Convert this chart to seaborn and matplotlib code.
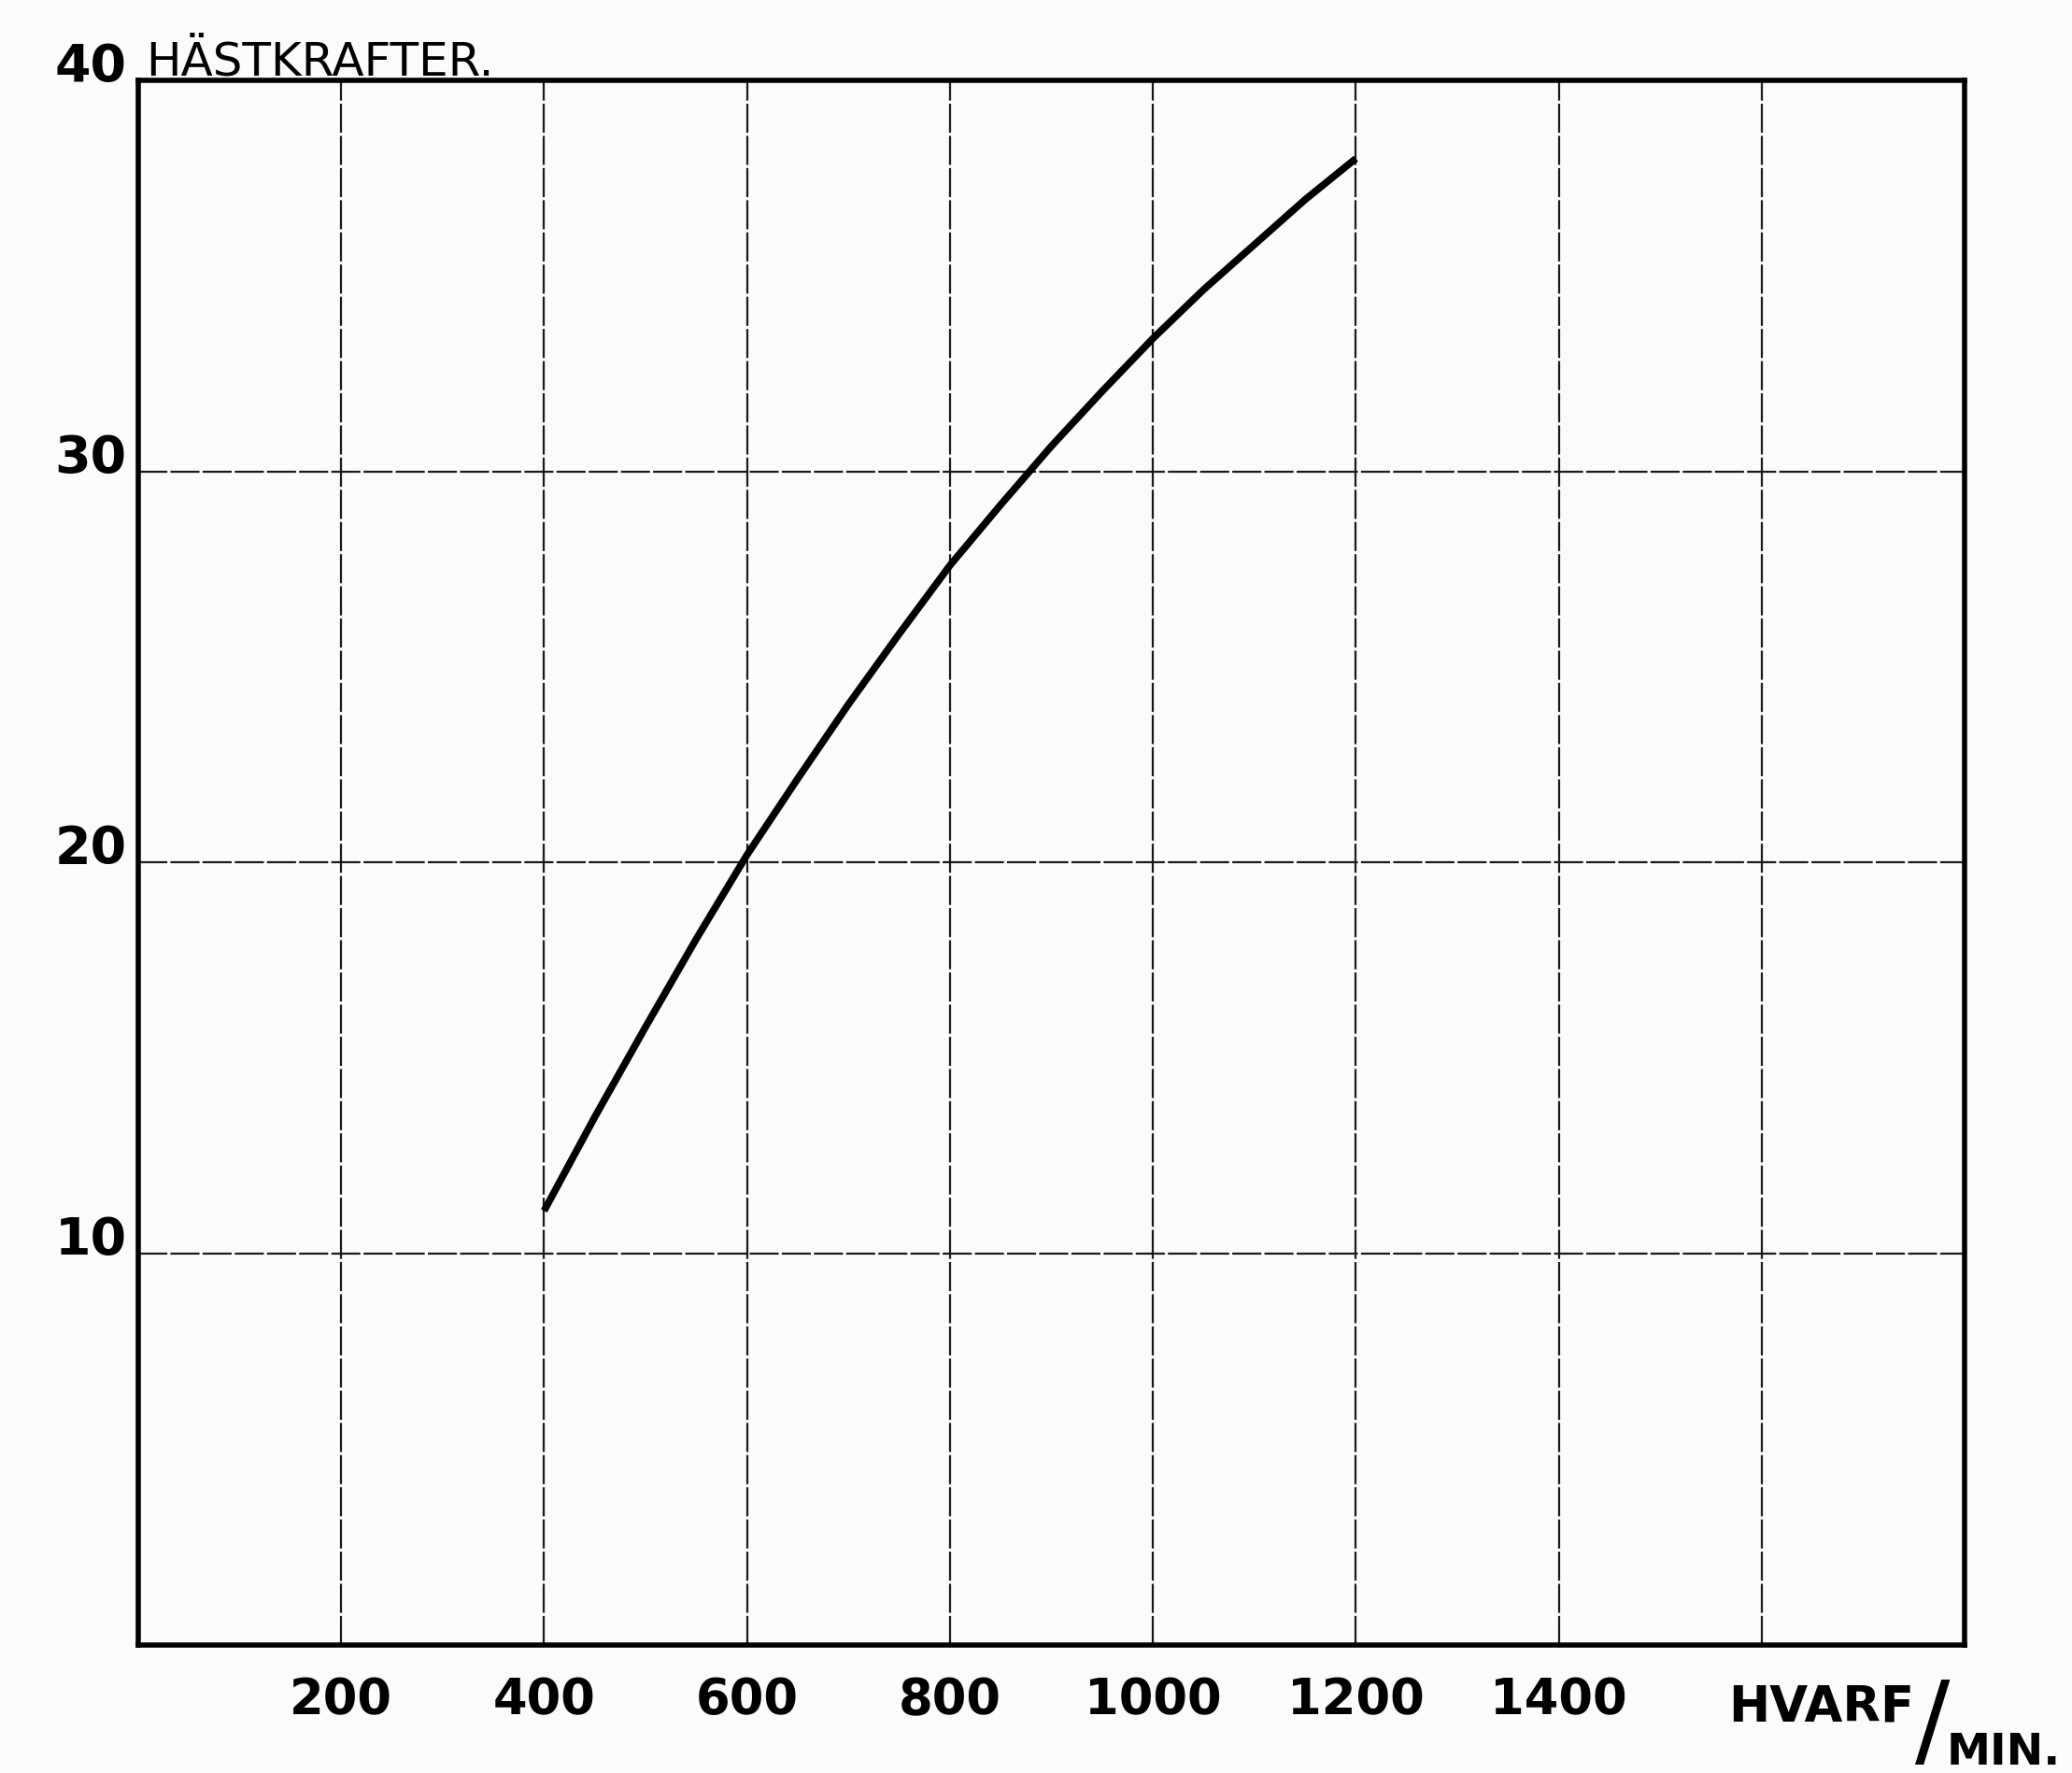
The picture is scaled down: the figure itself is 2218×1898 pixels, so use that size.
import matplotlib
matplotlib.use("Agg")
import matplotlib.pyplot as plt
from matplotlib.transforms import ScaledTranslation
import seaborn as sns

# Hästkrafter mot varvtal (hvarf/min), avläst från kurvan
rpm = [400, 450, 500, 550, 600, 650, 700, 750, 800,
       850, 900, 950, 1000, 1050, 1100, 1150, 1200]
hp = [11.1, 13.5, 15.8, 18.05, 20.2, 22.15, 24.05, 25.85, 27.6,
      29.15, 30.65, 32.05, 33.4, 34.65, 35.8, 36.95, 38.0]

x_ticks = [200, 400, 600, 800, 1000, 1200, 1400, 1600]
x_labels = ["200", "400", "600", "800", "1000", "1200", "1400", ""]
y_ticks = [10, 20, 30, 40]
y_labels = ["10", "20", "30", "40"]

sns.set_style("white")
plt.rcParams["font.family"] = ["DejaVu Sans"]
plt.rcParams["text.color"] = "black"
plt.rcParams["xtick.color"] = "black"
plt.rcParams["ytick.color"] = "black"

fig = plt.figure(figsize=(22.18, 18.98), dpi=100, facecolor="#fbfbfb")
ax = fig.add_axes([0.0667, 0.0722, 0.8815, 0.8825])
ax.set_facecolor("#fbfbfb")

sns.lineplot(x=rpm, y=hp, color="black", linewidth=5.5, ax=ax,
             solid_capstyle="butt", solid_joinstyle="round", zorder=5)

ax.set_xlim(0, 1800)
ax.set_ylim(0, 40)
ax.set_xticks(x_ticks)
ax.set_xticklabels(x_labels, fontsize=38, fontweight="bold", color="black")
ax.set_yticks(y_ticks)
ax.set_yticklabels(y_labels, fontsize=40, fontweight="bold", color="black")
ax.tick_params(axis="both", length=0, labelcolor="black")
ax.tick_params(axis="x", pad=24)
ax.tick_params(axis="y", pad=9)

# y-etiketterna sitter lite ovanför linjerna
for lab in ax.get_yticklabels():
    lab.set_transform(lab.get_transform() + ScaledTranslation(0, 0.2, fig.dpi_scale_trans))

ax.grid(True, color="#1a1a1a", linewidth=1.6, linestyle=(0, (14, 1.5)))

for side in ["left", "right", "top", "bottom"]:
    ax.spines[side].set_visible(True)
    ax.spines[side].set_color("black")
    ax.spines[side].set_linewidth(4)

ax.text(0.004, 1.003, "HÄSTKRAFTER.", transform=ax.transAxes,
        fontsize=36, va="baseline", ha="left", color="black")

ax.text(1567, -1.6, "HVARF", fontsize=38, fontweight="bold", color="black",
        ha="left", va="center", clip_on=False)
ax.text(1768, -2.1, "/", fontsize=80, ha="center", va="center",
        color="black", clip_on=False)
ax.text(1782, -2.75, "MIN.", fontsize=34, fontweight="bold", color="black",
        ha="left", va="center", clip_on=False)

ax.set_xlabel("")
ax.set_ylabel("")

fig.savefig("out.png", dpi=100, facecolor=fig.get_facecolor())
